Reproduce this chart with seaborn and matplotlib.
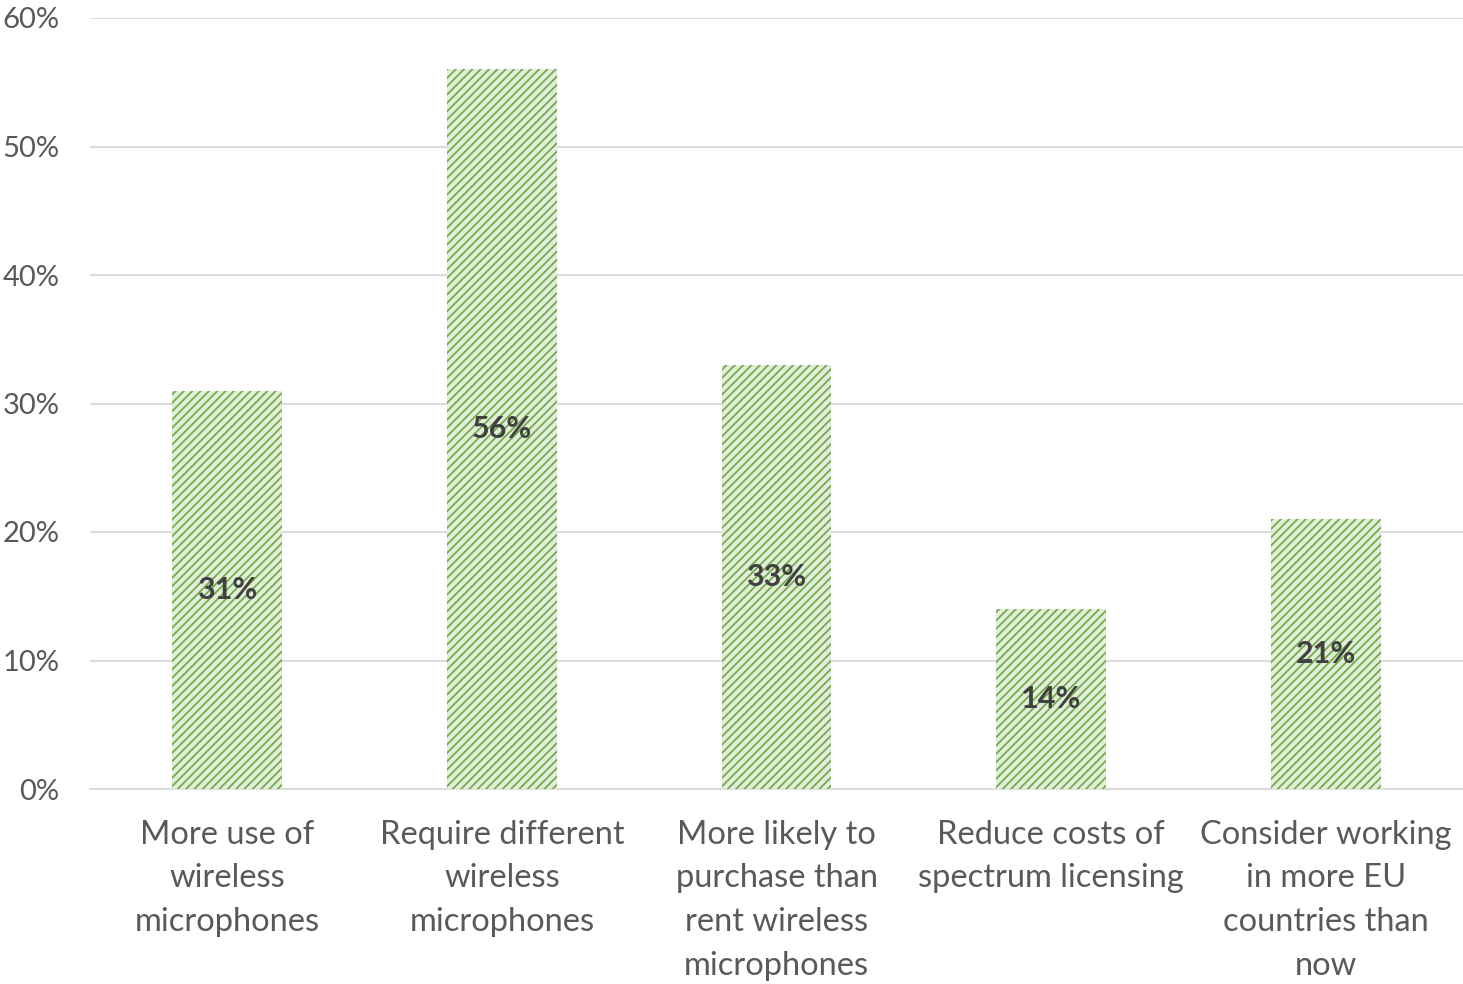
import matplotlib
matplotlib.use('Agg')
import matplotlib.pyplot as plt
import seaborn as sns
from matplotlib.ticker import PercentFormatter

# Chart data
categories = ['More use of\nwireless\nmicrophones',
              'Require different\nwireless\nmicrophones',
              'More likely to\npurchase than\nrent wireless\nmicrophones',
              'Reduce costs of\nspectrum licensing',
              'Consider working\nin more EU\ncountries than\nnow']
values = [31, 56, 33, 14, 21]
labels = ['31%', '56%', '33%', '14%', '21%']

sns.set_style('white')
plt.rcParams['font.family'] = ['Lato', 'DejaVu Sans']
plt.rcParams['hatch.linewidth'] = 1.3

fig = plt.figure(figsize=(14.63, 9.84), dpi=100)
ax = fig.add_axes([90 / 1463, 1 - 789 / 984, 1 - 90 / 1463, (789 - 18) / 984])

sns.barplot(x=categories, y=values, color='#E2F0D9', width=0.4, ax=ax, zorder=3)
for p in ax.patches:
    p.set_hatch('////')
    p.set_edgecolor('#70AD47')
    p.set_linewidth(0)

# value labels in the middle of each bar
for i, (v, lab) in enumerate(zip(values, labels)):
    ax.text(i, v / 2, lab, ha='center', va='center', fontsize=22,
            fontweight='bold', color='#404040', zorder=4)

ax.set_ylim(0, 60)
ax.set_xlim(-0.5, 4.5)
ax.set_yticks(range(0, 61, 10))
ax.yaxis.set_major_formatter(PercentFormatter(decimals=0))
ax.grid(axis='y', color='#D9D9D9', linewidth=1.3, zorder=0)
ax.set_axisbelow(True)
for s in ['top', 'right', 'left']:
    ax.spines[s].set_visible(False)
ax.spines['bottom'].set_color('#D9D9D9')
ax.spines['bottom'].set_linewidth(1.3)
ax.tick_params(axis='y', length=0, labelsize=21, labelcolor='#595959', pad=22)
ax.tick_params(axis='x', length=0, labelsize=23.5, labelcolor='#595959', pad=22)
for t in ax.get_xticklabels():
    t.set_linespacing(1.58)

fig.savefig('out.png', dpi=100)
